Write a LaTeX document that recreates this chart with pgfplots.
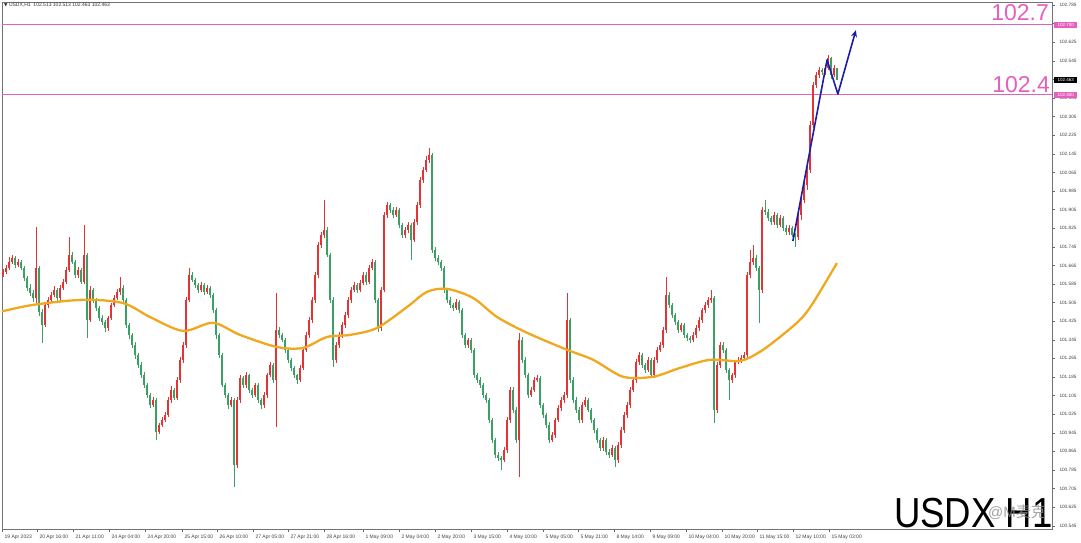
\documentclass[border=0pt]{standalone}
\usepackage{pgfplots}
\usepackage{pgfplotstable}
\pgfplotsset{compat=1.18}
\usetikzlibrary{arrows.meta}
\usepackage{fontspec}
\setmainfont{Liberation Sans}
\newfontfamily\djv{DejaVu Sans}
\newfontfamily\cjk{Noto Sans CJK SC}
\definecolor{cup}{RGB}{226,52,52}
\definecolor{cdn}{RGB}{60,160,100}
\definecolor{pinkc}{RGB}{228,96,190}
\definecolor{maor}{RGB}{240,168,30}
\definecolor{arrb}{RGB}{28,28,168}

\pgfplotstableread{
o h l c
101.624 101.650 101.615 101.637
101.637 101.668 101.628 101.654
101.654 101.700 101.645 101.680
101.680 101.712 101.672 101.697
101.697 101.705 101.655 101.667
101.667 101.692 101.660 101.680
101.680 101.688 101.645 101.654
101.654 101.662 101.600 101.611
101.611 101.620 101.555 101.568
101.568 101.585 101.535 101.547
101.547 101.560 101.510 101.525
101.525 101.830 101.505 101.654
101.654 101.665 101.450 101.465
101.465 101.480 101.332 101.409
101.409 101.505 101.400 101.495
101.495 101.530 101.485 101.517
101.517 101.550 101.505 101.538
101.538 101.575 101.530 101.560
101.560 101.570 101.515 101.525
101.525 101.582 101.515 101.568
101.568 101.605 101.560 101.594
101.594 101.660 101.585 101.646
101.646 101.787 101.640 101.710
101.710 101.725 101.670 101.680
101.680 101.690 101.612 101.624
101.624 101.660 101.610 101.646
101.646 101.655 101.585 101.594
101.594 101.839 101.585 101.710
101.710 101.720 101.353 101.431
101.431 101.575 101.420 101.560
101.560 101.570 101.505 101.517
101.517 101.525 101.470 101.482
101.482 101.490 101.425 101.439
101.439 101.450 101.410 101.422
101.422 101.430 101.380 101.396
101.396 101.450 101.385 101.439
101.439 101.505 101.430 101.495
101.495 101.540 101.485 101.525
101.525 101.565 101.515 101.551
101.551 101.615 101.540 101.568
101.568 101.580 101.505 101.517
101.517 101.525 101.395 101.409
101.409 101.420 101.350 101.366
101.366 101.375 101.310 101.323
101.323 101.335 101.265 101.280
101.280 101.290 101.225 101.237
101.237 101.250 101.180 101.194
101.194 101.205 101.140 101.151
101.151 101.160 101.095 101.108
101.108 101.115 101.050 101.065
101.065 101.100 101.055 101.087
101.087 101.095 100.915 100.949
100.949 100.990 100.940 100.979
100.979 101.012 100.970 101.001
101.001 101.035 100.990 101.022
101.022 101.100 101.012 101.087
101.087 101.145 101.075 101.130
101.130 101.140 101.085 101.095
101.095 101.185 101.085 101.173
101.173 101.270 101.160 101.259
101.259 101.335 101.245 101.323
101.323 101.530 101.310 101.517
101.517 101.654 101.505 101.624
101.624 101.635 101.592 101.603
101.603 101.612 101.570 101.581
101.581 101.592 101.548 101.560
101.560 101.595 101.550 101.581
101.581 101.590 101.540 101.551
101.551 101.580 101.540 101.568
101.568 101.578 101.525 101.538
101.538 101.548 101.462 101.474
101.474 101.482 101.350 101.366
101.366 101.375 101.265 101.280
101.280 101.290 101.140 101.151
101.151 101.160 101.095 101.108
101.108 101.118 101.050 101.065
101.065 101.100 101.055 101.087
101.087 101.095 100.712 100.807
100.807 101.100 100.795 101.087
101.087 101.195 101.075 101.181
101.181 101.190 101.140 101.151
101.151 101.205 101.140 101.194
101.194 101.200 101.118 101.130
101.130 101.140 101.095 101.108
101.108 101.162 101.098 101.151
101.151 101.160 101.075 101.087
101.087 101.095 101.050 101.065
101.065 101.120 101.055 101.108
101.108 101.205 101.098 101.194
101.194 101.250 101.185 101.237
101.237 101.245 101.160 101.173
101.173 101.547 100.970 101.388
101.388 101.400 101.355 101.366
101.366 101.375 101.335 101.345
101.345 101.355 101.290 101.302
101.302 101.310 101.245 101.259
101.259 101.268 101.212 101.224
101.224 101.232 101.180 101.194
101.194 101.200 101.155 101.173
101.173 101.235 101.165 101.224
101.224 101.312 101.215 101.302
101.302 101.378 101.292 101.366
101.366 101.442 101.355 101.431
101.431 101.530 101.420 101.517
101.517 101.638 101.505 101.624
101.624 101.768 101.612 101.753
101.753 101.810 101.740 101.796
101.796 101.947 101.785 101.818
101.818 101.830 101.700 101.710
101.710 101.720 101.505 101.517
101.517 101.530 101.229 101.259
101.259 101.335 101.245 101.323
101.323 101.378 101.312 101.366
101.366 101.420 101.355 101.409
101.409 101.465 101.398 101.452
101.452 101.530 101.440 101.517
101.517 101.572 101.505 101.560
101.560 101.595 101.550 101.581
101.581 101.592 101.548 101.560
101.560 101.602 101.550 101.590
101.590 101.638 101.580 101.624
101.624 101.635 101.582 101.594
101.594 101.668 101.585 101.654
101.654 101.692 101.645 101.680
101.680 101.690 101.505 101.517
101.517 101.525 101.380 101.396
101.396 101.572 101.385 101.560
101.560 101.895 101.550 101.882
101.882 101.940 101.870 101.925
101.925 101.935 101.892 101.904
101.904 101.915 101.870 101.882
101.882 101.918 101.872 101.904
101.904 101.912 101.825 101.839
101.839 101.848 101.782 101.796
101.796 101.830 101.785 101.818
101.818 101.852 101.805 101.839
101.839 101.848 101.688 101.775
101.775 101.865 101.765 101.852
101.852 101.938 101.840 101.925
101.925 102.048 101.915 102.033
102.033 102.090 102.020 102.076
102.076 102.135 102.065 102.119
102.119 102.170 102.105 102.140
102.140 102.150 101.720 101.732
101.732 101.745 101.685 101.697
101.697 101.708 101.668 101.680
101.680 101.690 101.640 101.654
101.654 101.665 101.548 101.560
101.560 101.570 101.505 101.517
101.517 101.528 101.482 101.495
101.495 101.505 101.470 101.482
101.482 101.520 101.472 101.508
101.508 101.518 101.462 101.474
101.474 101.482 101.352 101.366
101.366 101.375 101.310 101.323
101.323 101.355 101.312 101.345
101.345 101.355 101.290 101.302
101.302 101.310 101.180 101.194
101.194 101.205 101.160 101.173
101.173 101.185 101.140 101.151
101.151 101.160 101.095 101.108
101.108 101.118 101.075 101.087
101.087 101.095 100.988 101.001
101.001 101.010 100.900 100.915
100.915 100.925 100.838 100.850
100.850 100.862 100.825 100.837
100.837 100.848 100.786 100.829
100.829 100.885 100.818 100.872
100.872 101.012 100.860 101.001
101.001 101.142 100.990 101.130
101.130 101.140 101.030 101.044
101.044 101.055 100.900 100.915
100.915 101.375 100.755 101.345
101.345 101.358 101.245 101.259
101.259 101.270 101.180 101.194
101.194 101.205 101.095 101.108
101.108 101.142 101.098 101.130
101.130 101.185 101.120 101.173
101.173 101.195 101.162 101.181
101.181 101.190 101.052 101.065
101.065 101.075 101.010 101.022
101.022 101.032 100.965 100.979
100.979 100.990 100.900 100.915
100.915 100.948 100.905 100.936
100.936 101.012 100.925 101.001
101.001 101.065 100.990 101.052
101.052 101.098 101.040 101.087
101.087 101.120 101.075 101.108
101.108 101.547 101.095 101.431
101.431 101.440 101.160 101.173
101.173 101.185 101.075 101.087
101.087 101.098 101.030 101.044
101.044 101.055 100.988 101.001
101.001 101.078 100.990 101.065
101.065 101.100 101.055 101.087
101.087 101.095 101.032 101.044
101.044 101.052 100.988 101.001
101.001 101.010 100.945 100.958
100.958 100.968 100.902 100.915
100.915 100.925 100.868 100.880
100.880 100.928 100.868 100.915
100.915 100.925 100.850 100.863
100.863 100.875 100.838 100.850
100.850 100.892 100.840 100.880
100.880 100.890 100.798 100.829
100.829 100.905 100.818 100.893
100.893 100.970 100.882 100.958
100.958 101.035 100.945 101.022
101.022 101.078 101.010 101.065
101.065 101.142 101.052 101.130
101.130 101.185 101.120 101.173
101.173 101.262 101.160 101.250
101.250 101.292 101.238 101.280
101.280 101.290 101.225 101.237
101.237 101.248 101.205 101.216
101.216 101.270 101.205 101.259
101.259 101.268 101.182 101.194
101.194 101.272 101.182 101.259
101.259 101.315 101.248 101.302
101.302 101.335 101.292 101.323
101.323 101.400 101.312 101.388
101.388 101.615 101.375 101.538
101.538 101.550 101.482 101.495
101.495 101.505 101.440 101.452
101.452 101.462 101.410 101.422
101.422 101.432 101.375 101.388
101.388 101.420 101.378 101.409
101.409 101.418 101.352 101.366
101.366 101.375 101.342 101.353
101.353 101.362 101.332 101.345
101.345 101.378 101.335 101.366
101.366 101.408 101.355 101.396
101.396 101.442 101.385 101.431
101.431 101.485 101.420 101.474
101.474 101.508 101.462 101.495
101.495 101.530 101.485 101.517
101.517 101.560 101.505 101.525
101.525 101.535 100.988 101.044
101.044 101.250 101.032 101.237
101.237 101.338 101.225 101.323
101.323 101.335 101.290 101.302
101.302 101.312 101.205 101.216
101.216 101.225 101.087 101.173
101.173 101.205 101.160 101.194
101.194 101.262 101.182 101.250
101.250 101.272 101.240 101.259
101.259 101.280 101.248 101.267
101.267 101.292 101.255 101.280
101.280 101.638 101.268 101.624
101.624 101.732 101.612 101.680
101.680 101.753 101.668 101.697
101.697 101.710 101.642 101.654
101.654 101.665 101.418 101.560
101.560 101.918 101.548 101.904
101.904 101.947 101.882 101.895
101.895 101.908 101.858 101.869
101.869 101.880 101.840 101.852
101.852 101.895 101.840 101.882
101.882 101.892 101.828 101.839
101.839 101.880 101.828 101.869
101.869 101.878 101.815 101.826
101.826 101.838 101.798 101.809
101.809 101.838 101.798 101.826
101.826 101.835 101.785 101.796
101.796 101.805 101.744 101.787
101.787 101.895 101.775 101.882
101.882 101.960 101.860 101.947
101.947 102.025 101.935 102.011
102.011 102.090 101.990 102.076
102.076 102.285 102.065 102.269
102.269 102.455 102.255 102.441
102.441 102.500 102.430 102.484
102.484 102.520 102.470 102.506
102.506 102.515 102.485 102.497
102.497 102.528 102.485 102.514
102.514 102.570 102.505 102.557
102.557 102.565 102.470 102.484
102.484 102.525 102.475 102.513
102.513 102.513 102.463 102.463
}\candles

\begin{document}
\begin{tikzpicture}
\path[use as bounding box] (0pt,0pt) rectangle (1081pt,542pt);
\begin{axis}[
  at={(2pt,13pt)}, anchor=south west,
  width=1050pt, height=527pt, scale only axis,
  xmin=-0.333, xmax=349.667,
  ymin=100.531, ymax=102.798,
  clip mode=individual,
  axis line style={draw=black!55, line width=0.6pt},
  tick align=outside, major tick length=3pt,
  tick style={black!60, line width=0.4pt},
  xtick pos=left, ytick pos=right,
  yticklabel pos=right,
  ytick={100.545,100.625,100.705,100.785,100.865,100.945,101.025,101.105,101.185,101.265,101.345,101.425,101.505,101.585,101.665,101.745,101.825,101.905,101.985,102.065,102.145,102.225,102.305,102.385,102.545,102.625,102.785},
  extra y ticks={102.465,102.705}, extra y tick labels={},
  yticklabel style={font=\fontsize{4.7}{5.5}\selectfont, text=black!75, anchor=west, xshift=1pt},
  /pgf/number format/.cd, fixed, precision=3, fixed zerofill, 1000 sep={}, assume math mode=true,
  /pgfplots/.cd,
  xtick={-0.3,11.333,23.333,35.333,47.333,59.667,71.333,83.333,95,107,120,132,144,156,168,180,191.667,203.667,215.667,227.667,239.667,251.333,263.333,275.333},
  xticklabels={19 Apr 2023,20 Apr 16:00,21 Apr 11:00,24 Apr 04:00,24 Apr 20:00,25 Apr 15:00,26 Apr 10:00,27 Apr 05:00,27 Apr 21:00,28 Apr 16:00,1 May 09:00,2 May 04:00,2 May 20:00,3 May 15:00,4 May 10:00,5 May 05:00,5 May 21:00,8 May 14:00,9 May 09:00,10 May 04:00,10 May 20:00,11 May 15:00,12 May 10:00,15 May 03:00},
  xticklabel style={font=\fontsize{5}{6}\selectfont, text=black!75, anchor=north west, xshift=-1pt, yshift=1pt},
]
% pink level lines
\addplot[pinkc, line width=1pt, forget plot] coordinates {(-1,102.7) (351,102.7)};
\addplot[pinkc, line width=1pt, forget plot] coordinates {(-1,102.4) (351,102.4)};
% up candles
\addplot[draw=none, mark=none, forget plot, unbounded coords=discard,
  error bars/.cd, y dir=both, y explicit, error mark=none,
  error bar style={line width=0.6pt, cup}]
  table[x expr=\coordindex, y expr={\thisrow{c}>=\thisrow{o} ? (\thisrow{h}+\thisrow{l})/2 : nan},
        y error expr={(\thisrow{h}-\thisrow{l})/2}] {\candles};
\addplot[draw=none, mark=none, forget plot, unbounded coords=discard,
  error bars/.cd, y dir=both, y explicit, error mark=none,
  error bar style={line width=1.7pt, cup, line cap=butt}]
  table[x expr=\coordindex, y expr={\thisrow{c}>=\thisrow{o} ? (\thisrow{o}+\thisrow{c})/2 : nan},
        y error expr={max(abs(\thisrow{c}-\thisrow{o})/2,0.002)}] {\candles};
% down candles
\addplot[draw=none, mark=none, forget plot, unbounded coords=discard,
  error bars/.cd, y dir=both, y explicit, error mark=none,
  error bar style={line width=0.6pt, cdn}]
  table[x expr=\coordindex, y expr={\thisrow{c}<\thisrow{o} ? (\thisrow{h}+\thisrow{l})/2 : nan},
        y error expr={(\thisrow{h}-\thisrow{l})/2}] {\candles};
\addplot[draw=none, mark=none, forget plot, unbounded coords=discard,
  error bars/.cd, y dir=both, y explicit, error mark=none,
  error bar style={line width=1.7pt, cdn, line cap=butt}]
  table[x expr=\coordindex, y expr={\thisrow{c}<\thisrow{o} ? (\thisrow{o}+\thisrow{c})/2 : nan},
        y error expr={max(abs(\thisrow{c}-\thisrow{o})/2,0.002)}] {\candles};
% moving average
\addplot[maor, line width=2.3pt, smooth, tension=0.5, forget plot] coordinates {
(-1,101.465) (10,101.495) (26.7,101.517) (40,101.503) (49,101.443) (60,101.383)
(70,101.418) (79,101.366) (91.3,101.314) (100,101.310) (108,101.357) (115.7,101.366)
(124.7,101.396) (134.7,101.486) (141.3,101.551) (148,101.564) (156.7,101.525)
(164.7,101.443) (174.7,101.375) (188,101.302) (196.7,101.259) (206.7,101.186)
(216.7,101.186) (225.7,101.224) (235.7,101.259) (245.7,101.254) (252.3,101.293)
(259,101.357) (265.7,101.431) (270,101.503) (278,101.675)};
% blue arrow
\addplot[arrb, line width=1.6pt, line join=round, -{Stealth[length=7pt,width=6pt]}, forget plot] coordinates {
(263.3,101.770) (274.7,102.549) (278.3,102.402) (284.3,102.677)};
% price tags on the right axis
\node[fill=pinkc, text=white, inner sep=0pt, minimum width=23pt, minimum height=6pt,
  font=\fontsize{4.5}{5}\selectfont, anchor=west, xshift=2pt] at (axis cs:349.667,102.7) {102.700};
\node[fill=pinkc, text=white, inner sep=0pt, minimum width=23pt, minimum height=6pt,
  font=\fontsize{4.5}{5}\selectfont, anchor=west, xshift=2pt] at (axis cs:349.667,102.4) {102.400};
\node[fill=black, text=white, inner sep=0pt, minimum width=23pt, minimum height=6pt,
  font=\fontsize{4.5}{5}\selectfont, anchor=west, xshift=2pt] at (axis cs:349.667,102.463) {102.463};
\end{axis}
% header
\node[anchor=north west, inner sep=0pt, font=\fontsize{5}{6}\selectfont, text=black!80] at (4pt,539pt)
  {{\djv\fontsize{4.5}{5}\selectfont ▼}\ USDX,H1\ \ 102.513 102.513 102.463 102.463};
% level labels
\node[anchor=base east, inner sep=0pt, text=pinkc, font=\fontsize{23}{24}\selectfont] at (1049pt,521pt) {102.7};
\node[anchor=base east, inner sep=0pt, text=pinkc, font=\fontsize{23}{24}\selectfont] at (1050pt,449pt) {102.4};
% watermark
\node[anchor=base west, inner sep=0pt, text=black, font=\fontsize{42}{44}\selectfont, xscale=0.87] at (894pt,15pt) {USDX H1};
\node[anchor=base west, inner sep=0pt, text=black!45, opacity=0.8, font=\fontsize{15}{16}\selectfont] at (988pt,25pt) {@M{\cjk 麦克}};
\end{tikzpicture}
\end{document}
